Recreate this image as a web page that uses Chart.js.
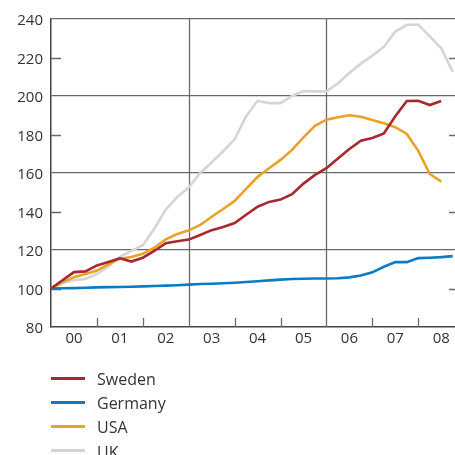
<!DOCTYPE html>
<html>
<head>
<meta charset="utf-8">
<script src="https://cdn.jsdelivr.net/npm/chart.js@4"></script>
<style>
  html, body { margin: 0; padding: 0; background: #fff; }
  #wrap { width: 455px; height: 455px; overflow: hidden; }
</style>
</head>
<body>
<div id="wrap"><canvas id="c" width="455" height="455"></canvas></div>
<script>
// House price indices, quarterly, 2000 Q1 = 100
const yearLabels = ['00', '01', '02', '03', '04', '05', '06', '07', '08'];
const seriesNames = ['Sweden', 'Germany', 'USA', 'UK'];

const sweden = [100, 104.3, 108.5, 108.9, 112, 113.8, 115.7, 114, 116, 119.5, 123.5, 124.5,
  125.4, 127.8, 130.3, 132, 134, 138.3, 142.5, 145, 146.2, 149, 154.5, 159,
  162.5, 167.5, 172.5, 176.8, 178.2, 180.5, 189.5, 197.4, 197.5, 195.3, 197.4];
const germany = [100, 100.1, 100.2, 100.4, 100.6, 100.7, 100.8, 100.9, 101.1, 101.3, 101.5, 101.7,
  102, 102.3, 102.5, 102.7, 103, 103.4, 103.8, 104.2, 104.6, 104.9, 105.1, 105.2,
  105.2, 105.3, 105.8, 106.8, 108.4, 111.3, 113.8, 113.7, 115.8, 116, 116.3, 116.8];
const usa = [100, 103.3, 105.8, 107.5, 109.3, 112.5, 115.5, 116.4, 118, 121.2, 125.5, 128.3,
  130.2, 133, 137.3, 141.3, 145.5, 151.8, 158, 162.5, 166.8, 172, 178.5, 184.5,
  187.7, 189, 190, 189.2, 187.5, 185.8, 183.8, 180.3, 171.5, 159.5, 155.5];
const uk = [100, 102.8, 104.3, 105, 107.5, 111.5, 116.5, 119.5, 122.5, 131, 141, 147.5,
  152.5, 160, 165.5, 171.3, 177.5, 189.5, 197.5, 196.3, 196.3, 200, 202.6, 202.4,
  202.4, 206.5, 212, 216.8, 221, 225.5, 233.5, 237, 237, 231, 224.8, 212.6];

const colors = ['#A7282F', '#0B7CC3', '#E9A228', '#D5D5D5'];
const seriesValues = [sweden, germany, usa, uk];

const QUARTERS_PER_YEAR = 4;
const X_MAX = 35.2;                 // visible span in quarters
const fullGridYears = [3, 6];        // boundaries drawn as full-height lines
const FONT = '"Open Sans", "DejaVu Sans", sans-serif';
const TEXT = '#333';
const GRID = '#6a6a6a';

const datasets = seriesNames.map((name, k) => ({
  label: name,
  data: seriesValues[k].map((v, i) => ({ x: i, y: v })),
  borderColor: colors[k],
  backgroundColor: colors[k],
  borderWidth: 2.6,
  pointRadius: 0,
  tension: 0,
  fill: false,
  clip: false
}));

// Frame details: year-boundary gridlines and tick marks, inner y ticks, legend
const framePlugin = {
  id: 'frame',
  beforeDatasetsDraw(chart) {
    const { ctx, chartArea: a, scales } = chart;
    const x = scales.x, y = scales.y;
    ctx.save();
    ctx.strokeStyle = GRID;
    ctx.lineWidth = 1.3;
    for (let yr = 1; yr < yearLabels.length; yr++) {
      const px = Math.round(x.getPixelForValue(yr * QUARTERS_PER_YEAR)) + 0.5;
      ctx.beginPath();
      if (fullGridYears.includes(yr)) {
        ctx.moveTo(px, a.top);
        ctx.lineTo(px, a.bottom);
      } else {
        ctx.moveTo(px, a.bottom);
        ctx.lineTo(px, a.bottom - 9);
      }
      ctx.stroke();
    }
    for (let v = 100; v < 240; v += 40) {
      const py = Math.round(y.getPixelForValue(v)) + 0.5;
      ctx.beginPath();
      ctx.moveTo(a.left, py);
      ctx.lineTo(a.left + 10, py);
      ctx.moveTo(a.right, py);
      ctx.lineTo(a.right - 6, py);
      ctx.stroke();
    }
    ctx.restore();
  },
  afterDraw(chart) {
    const { ctx } = chart;
    ctx.save();
    ctx.font = '16px ' + FONT;
    ctx.textBaseline = 'middle';
    chart.data.datasets.forEach((ds, k) => {
      const cy = 378.5 + k * 24;
      ctx.strokeStyle = ds.borderColor;
      ctx.lineWidth = 3;
      ctx.beginPath();
      ctx.moveTo(51, cy);
      ctx.lineTo(85, cy);
      ctx.stroke();
      ctx.fillStyle = TEXT;
      ctx.fillText(ds.label, 97, cy + 1.5 + (k === 3 ? 1.5 : 0));
    });
    ctx.restore();
  }
};

new Chart(document.getElementById('c'), {
  type: 'line',
  data: { datasets },
  options: {
    responsive: false,
    animation: false,
    events: [],
    layout: { padding: { top: 19, right: 0, bottom: 98, left: 0 } },
    plugins: { legend: { display: false }, tooltip: { enabled: false } },
    scales: {
      x: {
        type: 'linear',
        min: 0,
        max: X_MAX,
        afterBuildTicks(scale) {
          scale.ticks = yearLabels.map((_, i) => ({ value: i * QUARTERS_PER_YEAR + 2 }));
        },
        afterFit(scale) { scale.height = 30; },
        ticks: {
          autoSkip: false,
          maxRotation: 0,
          padding: 3,
          color: TEXT,
          font: { family: FONT, size: 15 },
          callback: (v) => yearLabels[Math.round((v - 2) / QUARTERS_PER_YEAR)]
        },
        grid: { display: false, drawTicks: false },
        border: { display: true, color: '#444', width: 1.5 }
      },
      y: {
        min: 80,
        max: 240,
        afterFit(scale) { scale.width = 51; },
        ticks: {
          stepSize: 20,
          padding: 8,
          labelOffset: 2,
          color: TEXT,
          font: { family: FONT, size: 15 }
        },
        grid: {
          drawTicks: false,
          lineWidth: 1.3,
          color: (c) => (c.tick && c.tick.value > 80 && c.tick.value % 40 === 0) ? GRID : 'rgba(0,0,0,0)'
        },
        border: { display: true, color: '#444', width: 1.5 }
      }
    }
  },
  plugins: [framePlugin]
});
</script>
</body>
</html>
